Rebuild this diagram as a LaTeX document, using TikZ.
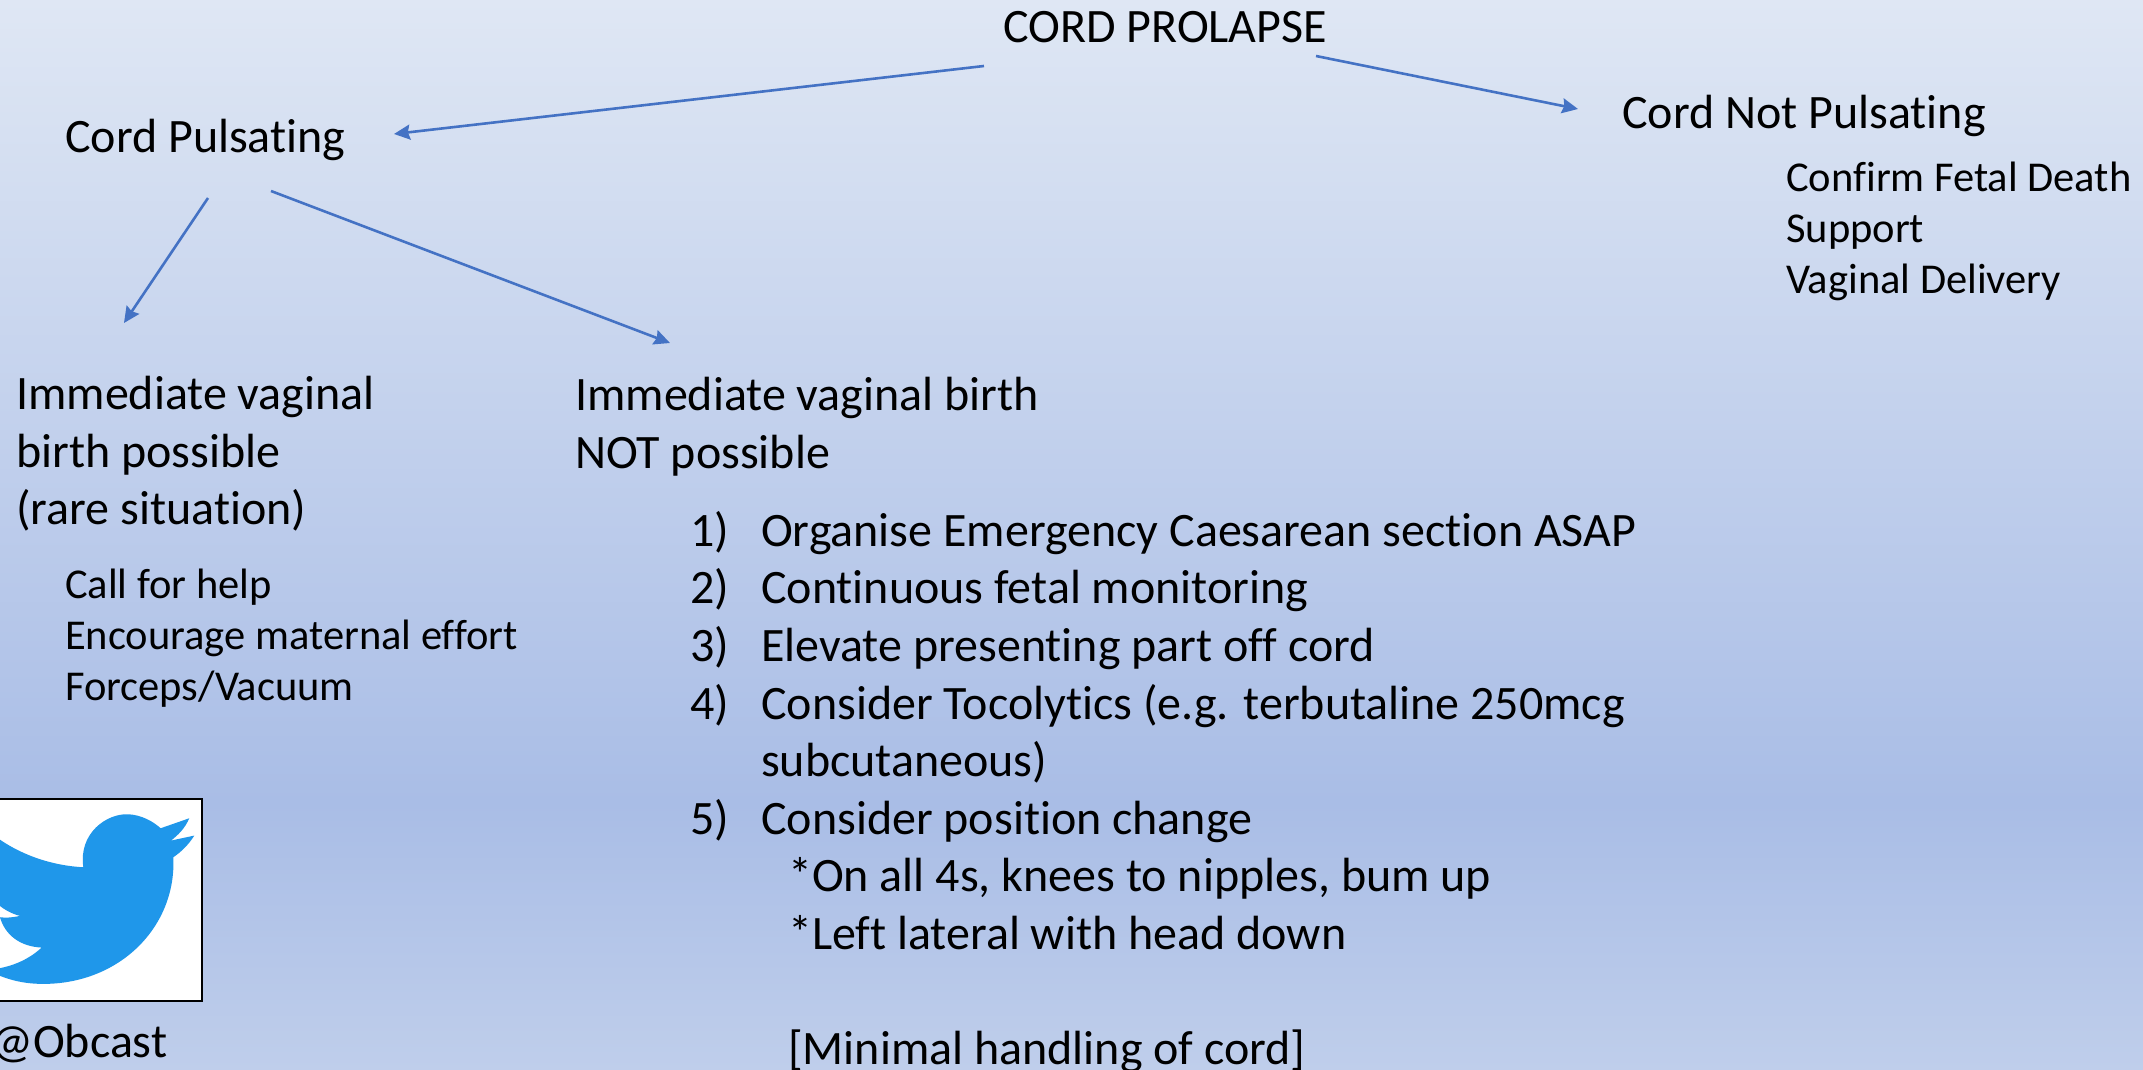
\documentclass[tikz,border=0pt]{standalone}
\usepackage{fontspec}
\setmainfont[Ligatures=NoCommon]{Carlito}
\usetikzlibrary{arrows.meta}
\definecolor{bga}{HTML}{DFE7F4}
\definecolor{bgm}{HTML}{A9BDE6}
\definecolor{bgb}{HTML}{BFCEEB}
\definecolor{arrowblue}{HTML}{4472C4}
\definecolor{birdblue}{HTML}{1F97EA}
\pgfdeclareverticalshading{bgshade}{100bp}{
 color(0bp)=(bgb); color(25bp)=(bgb); color(37.5bp)=(bgm); color(75bp)=(bga); color(100bp)=(bga)}
\tikzset{
 big/.style={anchor=north west,inner sep=0pt,align=left,text=black,font=\fontsize{48}{57.6}\selectfont},
 small/.style={anchor=north west,inner sep=0pt,align=left,text=black,font=\fontsize{42.5}{51}\selectfont},
 link/.style={draw=arrowblue,line width=2.6pt,-{Stealth[length=16pt,width=15pt,inset=2pt]}},
}
\newcommand{\numitem}[1]{\makebox[71pt][l]{#1}}
\begin{document}
\begin{tikzpicture}[x=1pt,y=-1pt]
\useasboundingbox (0,0) rectangle (2143,1070);
\fill[shading=bgshade] (0,0) rectangle (2143,1070);
% Twitter badge
\begin{scope}
 \clip (0,799) rectangle (202,1001);
 \fill[white] (0,799) rectangle (202,1001);
 \begin{scope}[x=0.3333pt,y=-0.3333pt,shift={(0,2340)}]
 \fill[birdblue] (-60,130) .. controls (10,200) and (120,255) .. (250,262)
  .. controls (235,160) and (320,100) .. (385,103)
  .. controls (425,105) and (460,125) .. (482,145)
  -- (568,115) .. controls (555,145) and (535,165) .. (513,182)
  -- (583,167) .. controls (565,195) and (545,215) .. (520,232)
  .. controls (530,440) and (360,612) .. (130,612)
  .. controls (70,612) and (20,600) .. (-40,570)
  .. controls (30,565) and (85,540) .. (125,503)
  .. controls (60,500) and (15,465) .. (0,412)
  .. controls (20,415) and (40,412) .. (60,408)
  .. controls (10,395) and (-30,360) .. (-50,310)
  -- (-60,130) -- cycle;
 \end{scope}
\end{scope}
\draw[black,line width=2pt] (-3,799) -- (202,799) -- (202,1001) -- (-3,1001);
% Texts
\node[big] (prolapse) at (1003,11) {CORD PROLAPSE};
\node[big] (pulsating) at (65,119) {Cord Pulsating};
\node[big] (notpulsating) at (1622,95) {Cord Not Pulsating};
\node[small] (fetal) at (1786,162) {Confirm Fetal Death\\Support\\Vaginal Delivery};
\node[big] (possible) at (16,376) {Immediate vaginal\\birth possible\\(rare situation)};
\node[big] (notpossible) at (575,377) {Immediate vaginal birth\\NOT possible};
\node[small] (help) at (65,569) {Call for help\\Encourage maternal effort\\Forceps/Vacuum};
\node[big] (plan) at (690,511) {\numitem{1)}Organise Emergency Caesarean section ASAP\\
\numitem{2)}Continuous fetal monitoring\\
\numitem{3)}Elevate presenting part off cord\\
\numitem{4)}Consider Tocolytics (e.g. terbutaline 250mcg\\
\numitem{}subcutaneous)\\
\numitem{5)}Consider position change\\
\numitem{}\hspace{27pt}*On all 4s, knees to nipples, bum up\\
\numitem{}\hspace{27pt}*Left lateral with head down\\
\mbox{}\\
\numitem{}\hspace{27pt}[Minimal handling of cord]};
\node[big] (obcast) at (-10,1024) {@Obcast};
% Connector ends
\coordinate (a1) at (984,66);
\coordinate (a2) at (394,134);
\coordinate (b1) at (1316,56);
\coordinate (b2) at (1578,109);
\coordinate (c1) at (208,198);
\coordinate (c2) at (124,323);
\coordinate (d1) at (271,191);
\coordinate (d2) at (670,343);
\draw[link] (a1) -- (a2);
\draw[link] (b1) -- (b2);
\draw[link] (c1) -- (c2);
\draw[link] (d1) -- (d2);
\end{tikzpicture}
\end{document}
